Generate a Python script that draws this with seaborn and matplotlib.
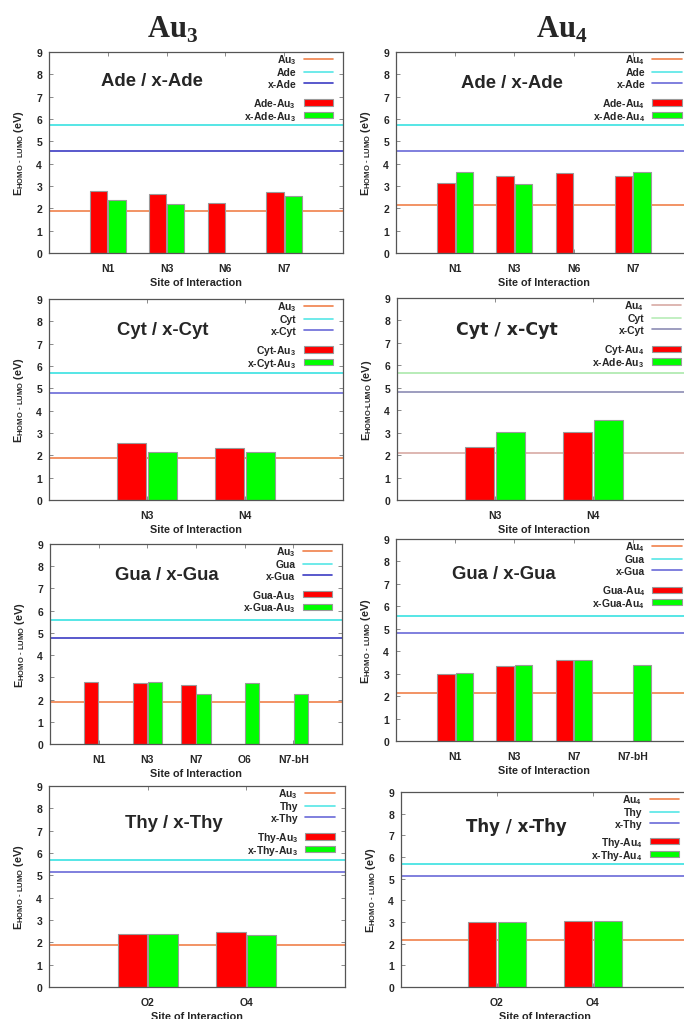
import numpy as np
import pandas as pd
import matplotlib
matplotlib.use("Agg")
import matplotlib.pyplot as plt
from matplotlib.lines import Line2D
from matplotlib.patches import Patch
import seaborn as sns

# ---------------- data (HOMO-LUMO gaps, eV) ----------------
ade_sites = ["N1", "N3", "N6", "N7"]
ade_au3 = [2.77, 2.64, 2.23, 2.75]
xade_au3 = [2.38, 2.19, np.nan, 2.56]
ade_au4 = [3.15, 3.44, 3.60, 3.45]
xade_au4 = [3.62, 3.08, np.nan, 3.62]

cyt_sites = ["N3", "N4"]
cyt_au3 = [2.54, 2.32]
xcyt_au3 = [2.17, 2.17]
cyt_au4 = [2.37, 3.02]
xcyt_au4 = [3.02, 3.56]

gua3_sites = ["N1", "N3", "N7", "O6", "N7-bH"]
gua_au3 = [2.79, 2.76, 2.65, np.nan, np.nan]
xgua_au3 = [np.nan, 2.79, 2.24, 2.74, 2.24]
gua4_sites = ["N1", "N3", "N7", "N7-bH"]
gua_au4 = [2.99, 3.35, 3.61, np.nan]
xgua_au4 = [3.04, 3.40, 3.61, 3.39]

thy_sites = ["O2", "O4"]
thy_au3 = [2.39, 2.45]
xthy_au3 = [2.39, 2.31]
thy_au4 = [3.01, 3.05]
xthy_au4 = [3.01, 3.04]

# isolated species (one value per row: Ade, Cyt, Gua, Thy)
bases = ["Ade", "Cyt", "Gua", "Thy"]
base_gap = [5.73, 5.68, 5.59, 5.70]
xbase_gap = [4.55, 4.80, 4.79, 5.13]
au3_gap = [1.87, 1.86, 1.88, 1.87]
au4_gap = [2.17, 2.11, 2.15, 2.18]

y_ticks = list(range(10))

# ---------------- style ----------------
sns.set_style("ticks")
plt.rcParams["font.family"] = ["Liberation Sans", "DejaVu Sans"]
plt.rcParams["font.weight"] = "bold"
plt.rcParams["mathtext.fontset"] = "custom"
plt.rcParams["mathtext.rm"] = "Liberation Serif"
plt.rcParams["mathtext.sf"] = "Liberation Sans:bold"
plt.rcParams["mathtext.bf"] = "Liberation Sans:bold"
plt.rcParams["mathtext.it"] = "Liberation Sans:bold"
plt.rcParams["mathtext.default"] = "bf"

RED, GREEN = "#ff0000", "#00ff00"
EDGE = "#9a9a9a"
FRAME = "#555555"

fig = plt.figure(figsize=(6.84, 10.2), dpi=100)
W, H = 684.0, 1020.0


def make_axes(l, t, r, b):
    return fig.add_axes([l / W, 1 - b / H, (r - l) / W, (b - t) / H])


def panel(ax, sites, red, green, row, cluster, title, title_pos,
          line_colors, red_label, green_label, line_labels, ylabel,
          title_family="Liberation Sans", title_size=13.3):
    cgap = au3_gap[row] if cluster == 3 else au4_gap[row]
    c_au, c_base, c_x = line_colors
    ax.axhline(cgap, color=c_au, lw=1.2, zorder=0.8)
    ax.axhline(base_gap[row], color=c_base, lw=1.4, zorder=0.8)
    ax.axhline(xbase_gap[row], color=c_x, lw=1.2, zorder=0.8)

    n = len(sites)
    df = pd.DataFrame({
        "site": list(sites) * 2,
        "gap": list(red) + list(green),
        "series": [red_label] * n + [green_label] * n,
    }).dropna()
    sns.barplot(data=df, x="site", y="gap", hue="series", order=sites,
                hue_order=[red_label, green_label], palette=[RED, GREEN],
                width=0.62, gap=0.04, saturation=1, edgecolor=EDGE,
                linewidth=0.8, errorbar=None, legend=False, ax=ax)

    ax.set_xlim(-1, n)
    ax.set_ylim(0, 9)
    ax.set_yticks(y_ticks)
    ax.set_xlabel("Site of Interaction", fontsize=7.8, fontweight="bold", labelpad=3)
    ax.set_ylabel(ylabel, fontsize=7.8, fontweight="bold", labelpad=7)
    ax.tick_params(direction="in", length=3, width=0.6, color="#777777",
                   top=True, right=True, labelsize=7.5, pad=5)
    ax.tick_params(axis="x", pad=7)
    for lab in ax.get_xticklabels() + ax.get_yticklabels():
        lab.set_fontweight("bold")
    for sp in ax.spines.values():
        sp.set_color(FRAME)
        sp.set_linewidth(0.9)

    ax.text(title_pos[0], title_pos[1], title, transform=ax.transAxes,
            ha="center", va="center", fontsize=title_size, fontweight="bold",
            family=title_family)

    line_handles = [Line2D([], [], color=c, lw=1.2) for c in line_colors]
    leg1 = ax.legend(line_handles, line_labels, loc="upper right",
                     bbox_to_anchor=(0.965, 0.998), markerfirst=False,
                     frameon=False, fontsize=7.5, handlelength=2.8,
                     handletextpad=0.7, labelspacing=0.12, borderpad=0,
                     borderaxespad=0)
    ax.add_artist(leg1)
    bar_handles = [Patch(facecolor=RED, edgecolor=EDGE, lw=0.8),
                   Patch(facecolor=GREEN, edgecolor=EDGE, lw=0.8)]
    ax.legend(bar_handles, [red_label, green_label], loc="upper right",
              bbox_to_anchor=(0.965, 0.78), markerfirst=False,
              frameon=False, fontsize=7.5, handlelength=2.8,
              handleheight=0.55, handletextpad=0.7, labelspacing=-0.12,
              borderpad=0, borderaxespad=0)


YL = r"E$_{HOMO\ \text{-}\ LUMO}$ (eV)"
YL_TIGHT = r"E$_{HOMO\text{-}LUMO}$ (eV)"
STD3 = ["#f0804a", "#55e6e6", "#3c3cc4"]
STD3_LIGHT = ["#f0804a", "#55e6e6", "#6a6ad8"]
PALE = ["#d8aaa4", "#b8ecb8", "#8c8cb4"]

# row 1: adenine
ax = make_axes(49, 53, 343, 254)
panel(ax, ade_sites, ade_au3, xade_au3, 0, 3, "Ade / x-Ade", (0.35, 0.86), STD3,
      r"Ade-Au$_3$", r"x-Ade-Au$_3$", [r"Au$_3$", "Ade", "x-Ade"], YL)
ax = make_axes(396, 53, 692, 254)
panel(ax, ade_sites, ade_au4, xade_au4, 0, 4, "Ade / x-Ade", (0.39, 0.85), STD3_LIGHT,
      r"Ade-Au$_4$", r"x-Ade-Au$_4$", [r"Au$_4$", "Ade", "x-Ade"], YL)

# row 2: cytosine
ax = make_axes(49, 300, 343, 501)
panel(ax, cyt_sites, cyt_au3, xcyt_au3, 1, 3, "Cyt / x-Cyt", (0.385, 0.85), STD3_LIGHT,
      r"Cyt-Au$_3$", r"x-Cyt-Au$_3$", [r"Au$_3$", "Cyt", "x-Cyt"], YL)
ax = make_axes(397, 299, 691, 501)
panel(ax, cyt_sites, cyt_au4, xcyt_au4, 1, 4, "Cyt / x-Cyt", (0.374, 0.847), PALE,
      r"Cyt-Au$_4$", r"x-Ade-Au$_3$", [r"Au$_4$", "Cyt", "x-Cyt"], YL_TIGHT,
      title_family="DejaVu Sans", title_size=12.5)

# row 3: guanine
ax = make_axes(50, 545, 342, 745)
panel(ax, gua3_sites, gua_au3, xgua_au3, 2, 3, "Gua / x-Gua", (0.40, 0.845), STD3,
      r"Gua-Au$_3$", r"x-Gua-Au$_3$", [r"Au$_3$", "Gua", "x-Gua"], YL)
ax = make_axes(396, 540, 692, 742)
panel(ax, gua4_sites, gua_au4, xgua_au4, 2, 4, "Gua / x-Gua", (0.365, 0.83), STD3_LIGHT,
      r"Gua-Au$_4$", r"x-Gua-Au$_4$", [r"Au$_4$", "Gua", "x-Gua"], YL)

# row 4: thymine
ax = make_axes(49, 787, 345, 988)
panel(ax, thy_sites, thy_au3, xthy_au3, 3, 3, "Thy / x-Thy", (0.42, 0.82), STD3_LIGHT,
      r"Thy-Au$_3$", r"x-Thy-Au$_3$", [r"Au$_3$", "Thy", "x-Thy"], YL)
ax = make_axes(401, 793, 689, 988)
panel(ax, thy_sites, thy_au4, xthy_au4, 3, 4, "Thy / x-Thy", (0.40, 0.825), STD3_LIGHT,
      r"Thy-Au$_4$", r"x-Thy-Au$_4$", [r"Au$_4$", "Thy", "x-Thy"], YL,
      title_family="DejaVu Sans", title_size=12.0)

# column headers
for xc, txt in [(173, r"Au$_{\mathrm{3}}$"), (562, r"Au$_{\mathrm{4}}$")]:
    fig.text(xc / W, 1 - 38 / H, txt, ha="center", va="baseline",
             fontsize=22, fontweight="bold", family="Liberation Serif")

fig.savefig("out.png", dpi=100)
